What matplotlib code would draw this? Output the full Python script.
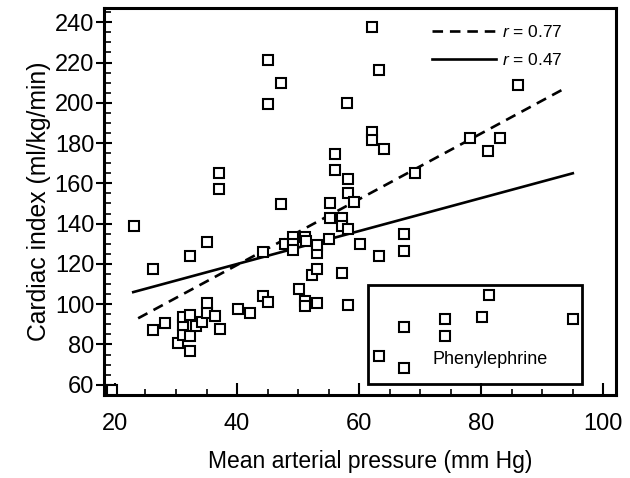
import matplotlib
matplotlib.use("Agg")
import matplotlib.pyplot as plt
import matplotlib.patches as mpatches
from matplotlib.ticker import MultipleLocator

plt.rcParams["font.family"] = ["Liberation Sans", "DejaVu Sans"]
plt.rcParams["mathtext.fontset"] = "custom"
plt.rcParams["mathtext.it"] = "Liberation Sans:italic"
plt.rcParams["mathtext.rm"] = "Liberation Sans"

# Main group (mean arterial pressure, cardiac index)
MAP_MAIN = [19.5, 23.2, 26.2, 26.2, 28.2, 30.3, 31.1, 31.1, 31.1, 32.3, 32.3, 32.3, 32.3,
            33.3, 34.2, 35.1, 35.1, 35.1, 36.4, 37.2, 37.0, 37.0, 40.2, 42.1, 44.3, 44.3,
            45.1, 45.1, 45.1, 47.2, 47.2, 47.9, 49.2, 49.2, 49.2, 51.2, 51.3, 50.2, 51.2,
            51.2, 52.2, 53.1, 53.1, 53.1, 53.1, 55.1, 55.2, 55.2, 56.1, 56.1, 57.2, 57.2,
            57.2, 58.1, 58.1, 58.1, 58.1, 58.0, 59.2, 60.2, 62.1, 62.1, 62.1, 63.2, 63.2,
            64.1, 67.3, 67.3, 69.1, 78.2, 81.1, 83.1, 86.0]
CI_MAIN = [57.5, 138.8, 117.4, 87.3, 90.9, 80.7, 84.8, 89.7, 93.6, 94.7, 84.3, 77.0, 124.0,
           89.2, 91.4, 95.8, 100.8, 131.0, 94.2, 87.6, 157.2, 165.0, 97.7, 95.5, 104.1, 126.0,
           101.3, 199.2, 221.0, 149.7, 209.9, 129.9, 133.5, 130.0, 127.0, 133.3, 131.5, 107.5,
           101.5, 99.0, 114.7, 117.4, 100.8, 125.3, 129.4, 132.3, 142.6, 150.4, 166.6, 174.8,
           115.7, 142.6, 139.0, 137.2, 99.7, 155.3, 162.0, 199.7, 150.6, 129.8, 237.6, 185.5,
           181.7, 216.2, 124.1, 177.0, 134.7, 126.3, 165.3, 182.3, 176.2, 182.3, 208.7]

# Phenylephrine group
MAP_PHE = [63.2, 67.3, 67.3, 74.1, 74.1, 80.2, 81.2, 95.1]
CI_PHE = [74.5, 68.3, 88.6, 92.7, 84.3, 93.4, 104.6, 92.7]

# Regression lines (end points)
FIT_DASH_X = [23.8, 93.6]
FIT_DASH_Y = [93.0, 207.0]
FIT_SOLID_X = [23.0, 95.0]
FIT_SOLID_Y = [106.0, 165.0]

fig = plt.figure(figsize=(6.3, 4.78), dpi=100)
ax = fig.add_axes([0.165, 0.174, 0.813, 0.809])

ax.plot(FIT_DASH_X, FIT_DASH_Y, color="black", lw=1.9, dashes=(4, 2.6),
        label="$r$ = 0.77", zorder=2)
ax.plot(FIT_SOLID_X, FIT_SOLID_Y, color="black", lw=1.9, label="$r$ = 0.47", zorder=2)

ax.plot(MAP_MAIN, CI_MAIN, ls="none", marker="s", ms=7, mfc="white", mec="black",
        mew=1.5, zorder=3)
ax.plot(MAP_PHE, CI_PHE, ls="none", marker="s", ms=7, mfc="white", mec="black",
        mew=1.5, zorder=3)

ax.add_patch(mpatches.Rectangle((61.4, 60.5), 35.1, 49.1, fill=False, lw=2,
                                edgecolor="black", zorder=2))
ax.text(81.5, 72.4, "Phenylephrine", ha="center", va="center", fontsize=13)

ax.set_xlim(18.2, 102.1)
ax.set_ylim(55, 247)
ax.xaxis.set_major_locator(MultipleLocator(20))
ax.xaxis.set_minor_locator(MultipleLocator(5))
ax.yaxis.set_major_locator(MultipleLocator(20))
ax.yaxis.set_minor_locator(MultipleLocator(5))
ax.set_yticks(range(60, 241, 20))

ax.tick_params(axis="x", which="major", direction="in", length=8.5, width=1.5,
               labelsize=17, pad=13)
ax.tick_params(axis="x", which="minor", direction="in", length=4, width=1.2)
ax.tick_params(axis="y", which="major", direction="inout", length=12, width=1.5,
               labelsize=17, pad=1)
ax.tick_params(axis="y", which="minor", direction="in", length=5, width=1.2)

for sp in ax.spines.values():
    sp.set_linewidth(2.2)

ax.set_xlabel("Mean arterial pressure (mm Hg)", fontsize=16.5, labelpad=11)
ax.xaxis.label.set_x(0.52)
ax.set_ylabel("Cardiac index (ml/kg/min)", fontsize=17.8, labelpad=3)

ax.legend(loc="upper right", bbox_to_anchor=(0.925, 1.0), frameon=False, fontsize=12.5,
          handlelength=3.7, handletextpad=0.3, labelspacing=0.7)

fig.savefig("out.png", dpi=100)
